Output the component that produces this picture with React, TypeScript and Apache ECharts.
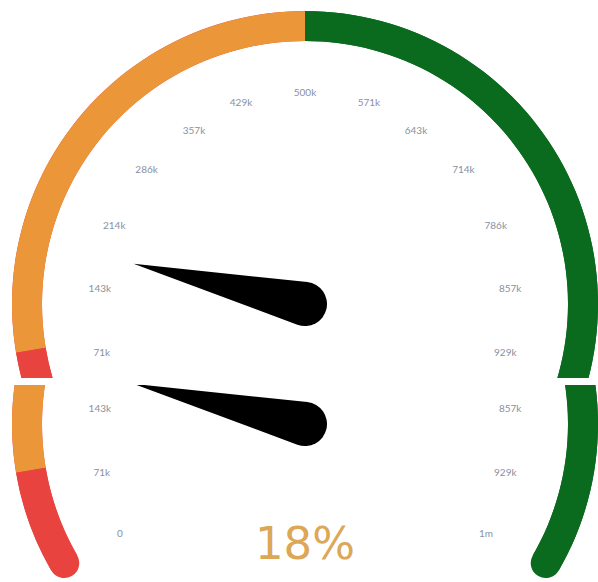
import React, { useEffect, useRef } from 'react';
import * as echarts from 'echarts';

const MIN = 0;
const MAX = 1000000;
const VALUE = 180000;
const TICK_LABELS = ['0', '71k', '143k', '214k', '286k', '357k', '429k', '500k', '571k', '643k', '714k', '786k', '857k', '929k', '1m'];
const BAND_STOPS = [0.085, 0.5, 1];
const BAND_COLORS = ['#E8433F', '#EA9639', '#0A6B1F'];
const CAP_STOPS = [0.5, 1];
const CAP_COLORS = ['#E8433F', '#0A6B1F'];
// which tick labels appear in each of the two stacked views
const TOP_VISIBLE = [1, 2, 3, 4, 5, 6, 7, 8, 9, 10, 11, 12, 13];
const BOTTOM_VISIBLE = [0, 1, 2, 12, 13, 14];

const POINTER_PATH = 'path://M22 0L0.17 173.25A22 22 0 1 0 43.83 173.25Z';

function buildOption(visible: number[], showDetail: boolean) {
  const splits = TICK_LABELS.length - 1;
  const common = {
    type: 'gauge',
    center: [305, 304],
    radius: 293,
    startAngle: 210,
    endAngle: -30,
    min: MIN,
    max: MAX,
    splitNumber: splits,
    silent: true,
  };
  return {
    animation: false,
    backgroundColor: '#ffffff',
    series: [
      {
        ...common,
        axisLine: {
          roundCap: true,
          lineStyle: { width: 30, color: CAP_STOPS.map((s, i) => [s, CAP_COLORS[i]]) },
        },
        pointer: { show: false },
        anchor: { show: false },
        progress: { show: false },
        axisTick: { show: false },
        splitLine: { show: false },
        axisLabel: { show: false },
        title: { show: false },
        detail: { show: false },
        data: [{ value: VALUE }],
      },
      {
        ...common,
        axisLine: {
          lineStyle: { width: 30, color: BAND_STOPS.map((s, i) => [s, BAND_COLORS[i]]) },
        },
        progress: { show: false },
        anchor: { show: false },
        pointer: {
          icon: POINTER_PATH,
          length: 198,
          width: 44,
          offsetCenter: [0, 22],
          keepAspect: false,
          itemStyle: { color: '#000000' },
        },
        axisTick: { show: false },
        splitLine: { show: false, length: 0, distance: 0 },
        axisLabel: {
          show: true,
          distance: 76,
          fontSize: 10,
          fontFamily: 'Lato',
          color: '#8A90A0',
          formatter: (v: number) => {
            const idx = Math.round(((v - MIN) / (MAX - MIN)) * splits);
            return visible.indexOf(idx) >= 0 ? TICK_LABELS[idx] : '';
          },
        },
        title: { show: false },
        detail: {
          show: showDetail,
          offsetCenter: [0, 119],
          fontSize: 45,
          fontFamily: 'DejaVu Sans',
          fontWeight: 'normal',
          color: '#DCA757',
          formatter: (v: number) => Math.round(((v - MIN) / (MAX - MIN)) * 100) + '%',
        },
        data: [{ value: VALUE }],
      },
    ],
  };
}

function GaugeView(props: { top: number; height: number; shift: number; visible: number[]; showDetail: boolean }) {
  const ref = useRef<HTMLDivElement>(null);
  useEffect(() => {
    if (!ref.current) return;
    const chart = echarts.init(ref.current, undefined, { renderer: 'svg' });
    chart.setOption(buildOption(props.visible, props.showDetail) as any);
    return () => chart.dispose();
  }, []);
  return (
    <div style={{ position: 'absolute', left: 0, top: props.top, width: 598, height: props.height, overflow: 'hidden' }}>
      <div ref={ref} style={{ position: 'absolute', left: 0, top: -props.shift, width: 598, height: 582 }} />
    </div>
  );
}

export default function App() {
  return (
    <div style={{ position: 'absolute', left: 0, top: 0, width: 598, height: 582, background: '#ffffff', overflow: 'hidden' }}>
      <GaugeView top={0} height={378} shift={0} visible={TOP_VISIBLE} showDetail={false} />
      <GaugeView top={385} height={197} shift={265} visible={BOTTOM_VISIBLE} showDetail={true} />
    </div>
  );
}
